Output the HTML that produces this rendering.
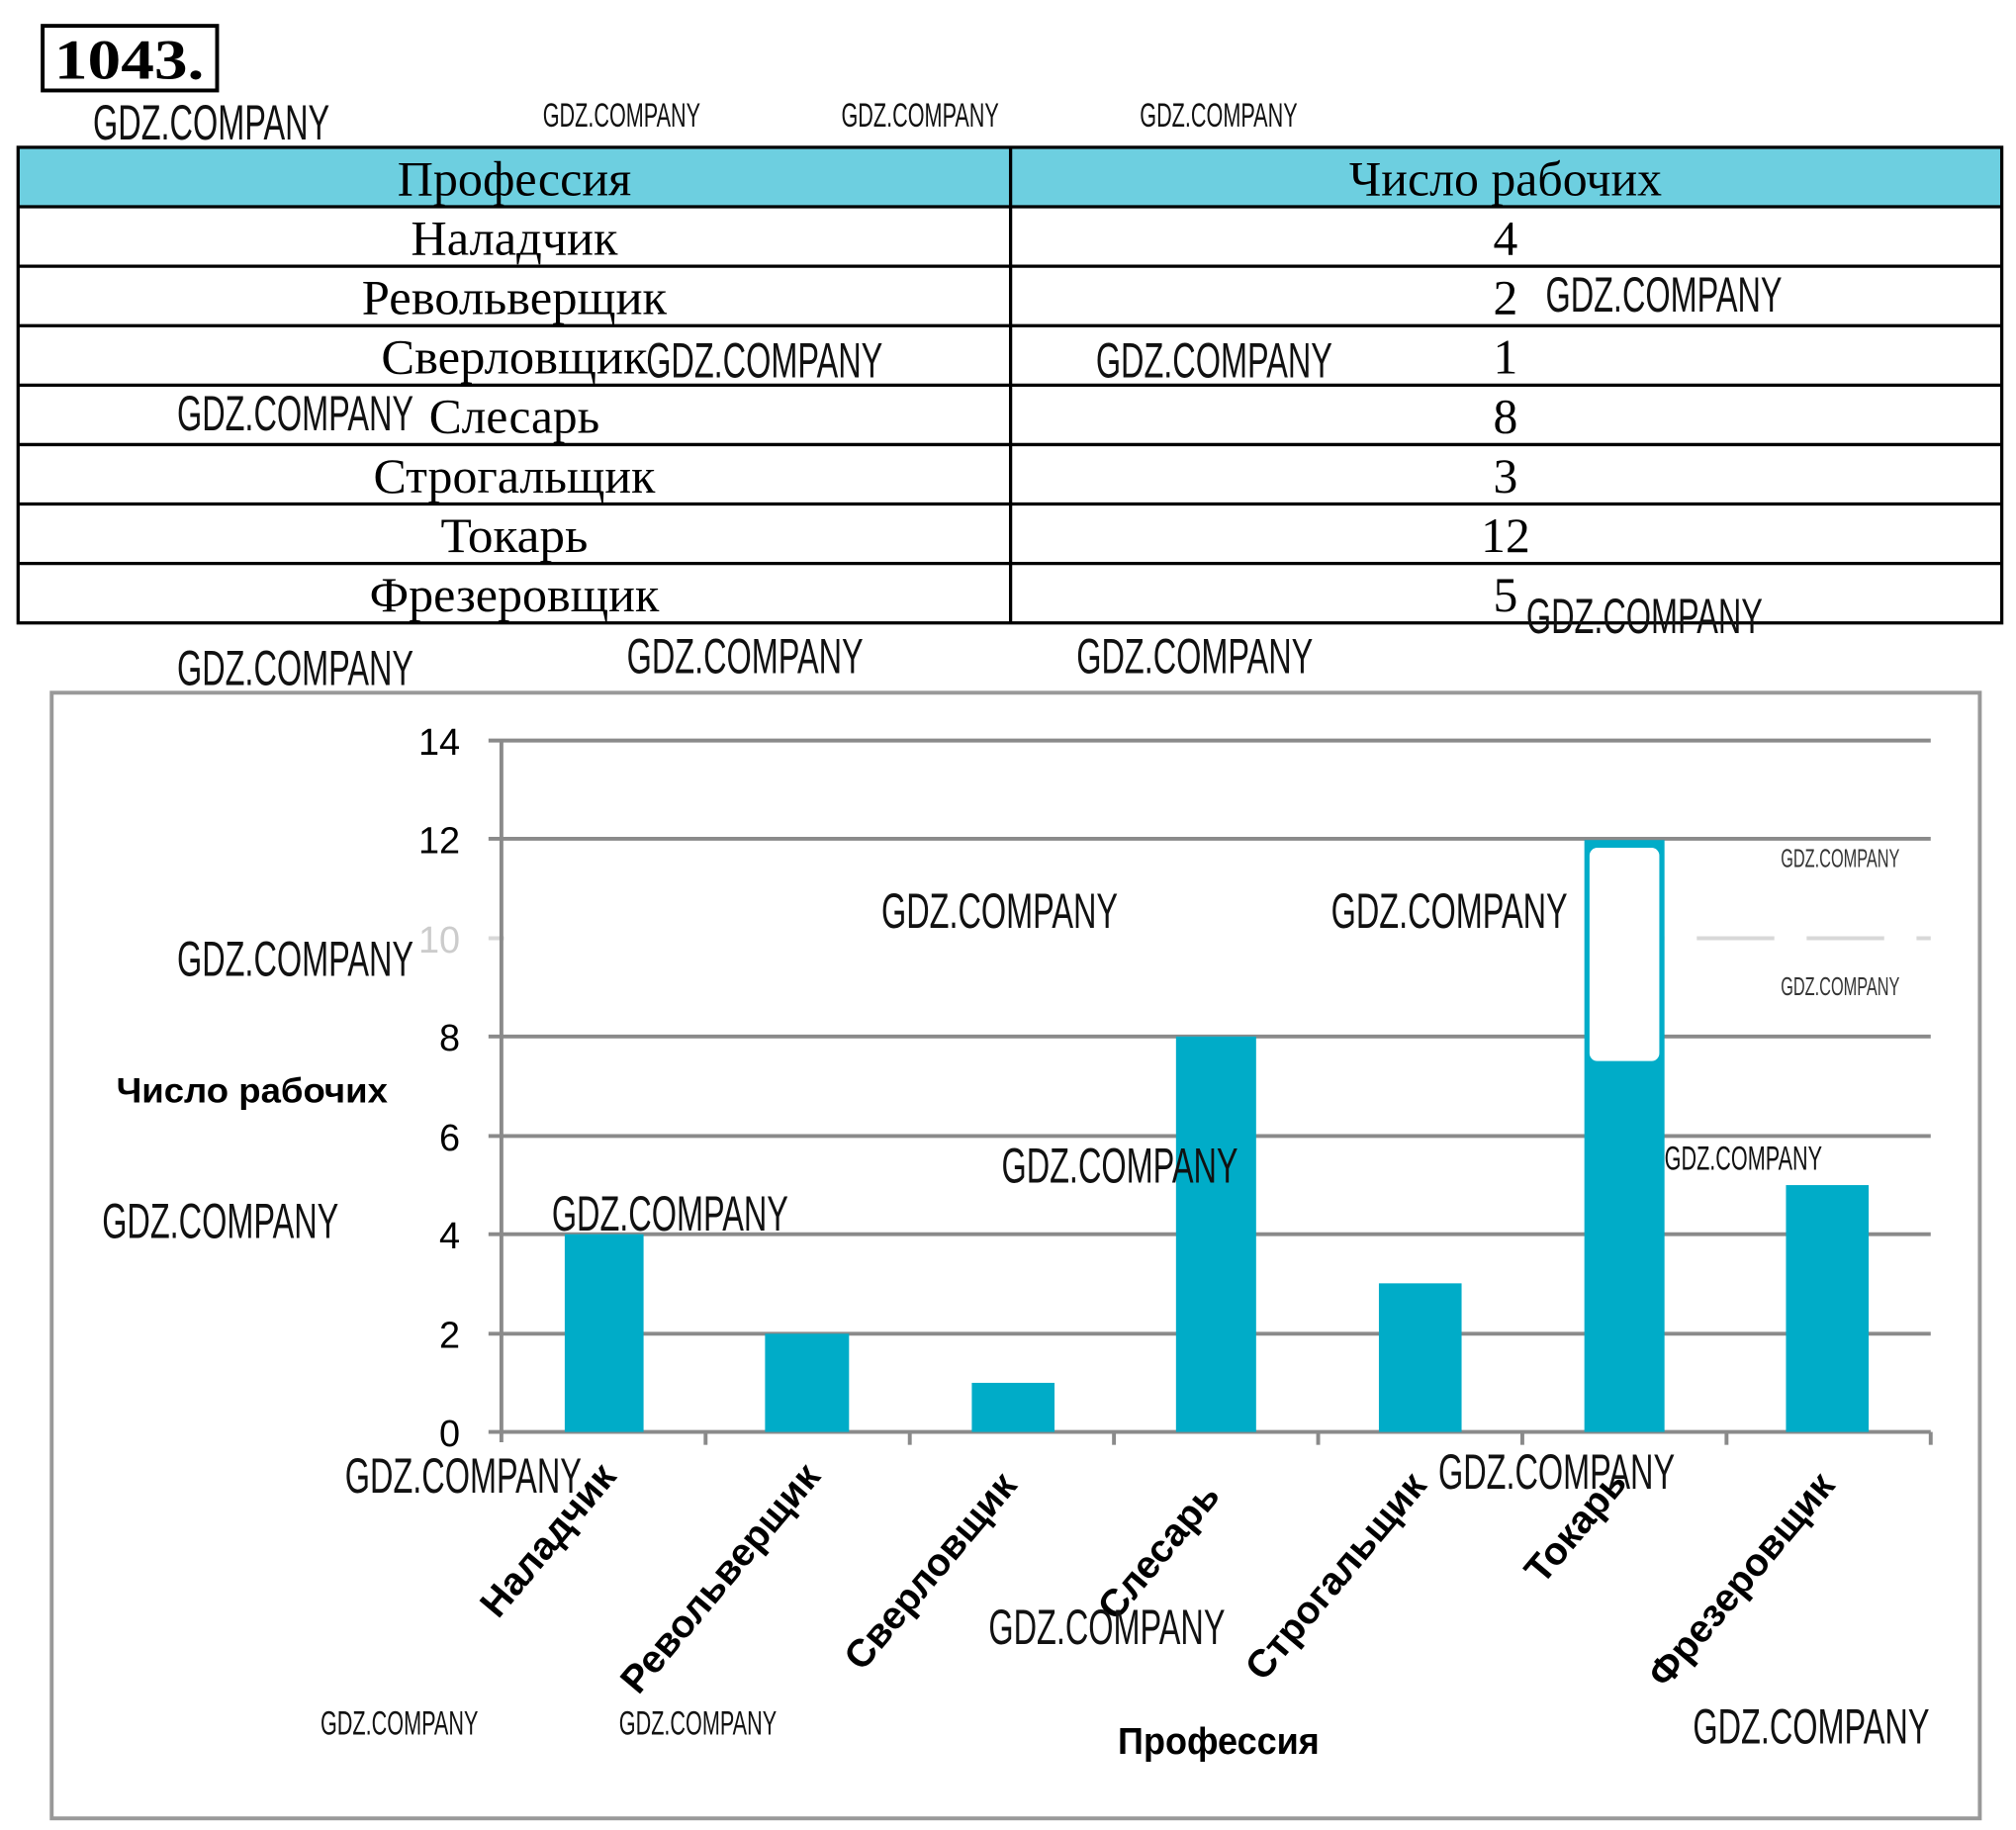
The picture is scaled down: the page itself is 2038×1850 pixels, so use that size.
<!DOCTYPE html>
<html><head><meta charset="utf-8"><style>html,body{margin:0;padding:0;background:#fff;}svg{display:block}</style></head>
<body>
<svg width="2038" height="1850" viewBox="0 0 1560 1416" preserveAspectRatio="none" xmlns="http://www.w3.org/2000/svg">
<rect width="1560" height="1416" fill="#fff"/>
<rect x="33" y="20" width="135" height="50" fill="none" stroke="#000" stroke-width="3"/>
<text x="42" y="61" font-family="Liberation Serif, serif" font-weight="bold" font-size="44" textLength="116" lengthAdjust="spacingAndGlyphs">1043.</text>
<g font-family="Liberation Sans Narrow, Liberation Sans, sans-serif" fill="#111">
<text x="72" y="108" font-size="38" textLength="183" lengthAdjust="spacingAndGlyphs">GDZ.COMPANY</text>
<text x="420" y="98" font-size="26" textLength="122" lengthAdjust="spacingAndGlyphs">GDZ.COMPANY</text>
<text x="651" y="98" font-size="26" textLength="122" lengthAdjust="spacingAndGlyphs">GDZ.COMPANY</text>
<text x="882" y="98" font-size="26" textLength="122" lengthAdjust="spacingAndGlyphs">GDZ.COMPANY</text>
</g>
<rect x="14" y="114" width="1535" height="46" fill="#6dcfe0"/>
<g stroke="#000" stroke-width="2.5" fill="none">
<rect x="14" y="114" width="1535" height="368"/>
<line x1="782" y1="114" x2="782" y2="482"/>
<line x1="14" y1="160" x2="1549" y2="160"/>
<line x1="14" y1="206" x2="1549" y2="206"/>
<line x1="14" y1="252" x2="1549" y2="252"/>
<line x1="14" y1="298" x2="1549" y2="298"/>
<line x1="14" y1="344" x2="1549" y2="344"/>
<line x1="14" y1="390" x2="1549" y2="390"/>
<line x1="14" y1="436" x2="1549" y2="436"/>
</g>
<g font-family="Liberation Serif, serif" font-size="38" text-anchor="middle" fill="#000" lengthAdjust="spacingAndGlyphs">
<text x="398" y="151" textLength="181" lengthAdjust="spacingAndGlyphs">Профессия</text><text x="1165" y="151" textLength="242" lengthAdjust="spacingAndGlyphs">Число рабочих</text>
<text x="398" y="197" textLength="160" lengthAdjust="spacingAndGlyphs">Наладчик</text><text x="1165" y="197">4</text>
<text x="398" y="243" textLength="236" lengthAdjust="spacingAndGlyphs">Револьверщик</text><text x="1165" y="243">2</text>
<text x="398" y="289" textLength="206" lengthAdjust="spacingAndGlyphs">Сверловщик</text><text x="1165" y="289">1</text>
<text x="398" y="335" textLength="132" lengthAdjust="spacingAndGlyphs">Слесарь</text><text x="1165" y="335">8</text>
<text x="398" y="381" textLength="218" lengthAdjust="spacingAndGlyphs">Строгальщик</text><text x="1165" y="381">3</text>
<text x="398" y="427" textLength="114" lengthAdjust="spacingAndGlyphs">Токарь</text><text x="1165" y="427">12</text>
<text x="398" y="473" textLength="224" lengthAdjust="spacingAndGlyphs">Фрезеровщик</text><text x="1165" y="473">5</text>
</g>
<rect x="40" y="536" width="1492" height="871" fill="none" stroke="#999" stroke-width="3"/>
<g stroke="#8a8a8a" stroke-width="3">
<line x1="378" y1="573" x2="1494" y2="573"/>
<line x1="378" y1="649" x2="1494" y2="649"/>
<line x1="378" y1="726" x2="1494" y2="726" stroke="#d8d8d8" stroke-dasharray="60,25"/>
<line x1="378" y1="802" x2="1494" y2="802"/>
<line x1="378" y1="879" x2="1494" y2="879"/>
<line x1="378" y1="955" x2="1494" y2="955"/>
<line x1="378" y1="1032" x2="1494" y2="1032"/>
<line x1="378" y1="1108" x2="1494" y2="1108"/>
<line x1="388" y1="573" x2="388" y2="1116"/>
<line x1="546" y1="1108" x2="546" y2="1118"/><line x1="704" y1="1108" x2="704" y2="1118"/>
<line x1="862" y1="1108" x2="862" y2="1118"/><line x1="1020" y1="1108" x2="1020" y2="1118"/>
<line x1="1178" y1="1108" x2="1178" y2="1118"/><line x1="1336" y1="1108" x2="1336" y2="1118"/>
<line x1="1494" y1="1108" x2="1494" y2="1118"/>
</g>
<rect x="390" y="655" width="835" height="142" fill="#fff"/>
<g fill="#00acc8">
<rect x="437" y="955" width="61" height="153"/>
<rect x="592" y="1032" width="65" height="76"/>
<rect x="752" y="1070" width="64" height="38"/>
<rect x="910" y="802" width="62" height="306"/>
<rect x="1067" y="993" width="64" height="115"/>
<rect x="1226" y="650" width="62" height="458"/>
<rect x="1382" y="917" width="64" height="191"/>
</g>
<rect x="1230" y="656" width="54" height="165" rx="6" fill="#fff"/>
<g font-family="Liberation Sans, sans-serif" font-size="29" text-anchor="end" fill="#000">
<text x="356" y="584">14</text><text x="356" y="660">12</text><text x="356" y="737" fill="#ccc">10</text>
<text x="356" y="813">8</text><text x="356" y="890">6</text><text x="356" y="966">4</text>
<text x="356" y="1043">2</text><text x="356" y="1119">0</text>
</g>
<text x="195" y="853" font-family="Liberation Sans, sans-serif" font-weight="bold" font-size="27" text-anchor="middle" textLength="210" lengthAdjust="spacingAndGlyphs">Число рабочих</text>
<text x="943" y="1357" font-family="Liberation Sans, sans-serif" font-weight="bold" font-size="29" text-anchor="middle" textLength="156" lengthAdjust="spacingAndGlyphs">Профессия</text>
<g font-family="Liberation Sans, sans-serif" font-weight="bold" font-size="30" text-anchor="end">
<text transform="translate(478,1143) rotate(-50)">Наладчик</text>
<text transform="translate(636,1143) rotate(-50)">Револьверщик</text>
<text transform="translate(788,1150) rotate(-50)">Сверловщик</text>
<text transform="translate(945,1158) rotate(-50)">Слесарь</text>
<text transform="translate(1105,1150) rotate(-50)">Строгальщик</text>
<text transform="translate(1260,1148) rotate(-50)">Токарь</text>
<text transform="translate(1421,1150) rotate(-50)">Фрезеровщик</text>
</g>
<g font-family="Liberation Sans Narrow, Liberation Sans, sans-serif" fill="#111" font-size="38">
<text x="1196" y="241" textLength="183" lengthAdjust="spacingAndGlyphs">GDZ.COMPANY</text>
<text x="500" y="292" textLength="183" lengthAdjust="spacingAndGlyphs">GDZ.COMPANY</text>
<text x="848" y="292" textLength="183" lengthAdjust="spacingAndGlyphs">GDZ.COMPANY</text>
<text x="137" y="333" textLength="183" lengthAdjust="spacingAndGlyphs">GDZ.COMPANY</text>
<text x="1181" y="490" textLength="183" lengthAdjust="spacingAndGlyphs">GDZ.COMPANY</text>
<text x="137" y="530" textLength="183" lengthAdjust="spacingAndGlyphs">GDZ.COMPANY</text>
<text x="485" y="521" textLength="183" lengthAdjust="spacingAndGlyphs">GDZ.COMPANY</text>
<text x="833" y="521" textLength="183" lengthAdjust="spacingAndGlyphs">GDZ.COMPANY</text>
<text x="682" y="718" textLength="183" lengthAdjust="spacingAndGlyphs">GDZ.COMPANY</text>
<text x="1030" y="718" textLength="183" lengthAdjust="spacingAndGlyphs">GDZ.COMPANY</text>
<text x="137" y="755" textLength="183" lengthAdjust="spacingAndGlyphs">GDZ.COMPANY</text>
<text x="775" y="915" textLength="183" lengthAdjust="spacingAndGlyphs">GDZ.COMPANY</text>
<text x="79" y="958" textLength="183" lengthAdjust="spacingAndGlyphs">GDZ.COMPANY</text>
<text x="427" y="952" textLength="183" lengthAdjust="spacingAndGlyphs">GDZ.COMPANY</text>
<text x="267" y="1155" textLength="183" lengthAdjust="spacingAndGlyphs">GDZ.COMPANY</text>
<text x="1113" y="1152" textLength="183" lengthAdjust="spacingAndGlyphs">GDZ.COMPANY</text>
<text x="765" y="1272" textLength="183" lengthAdjust="spacingAndGlyphs">GDZ.COMPANY</text>
<text x="1310" y="1349" textLength="183" lengthAdjust="spacingAndGlyphs">GDZ.COMPANY</text>
</g>
<g font-family="Liberation Sans Narrow, Liberation Sans, sans-serif" fill="#111" font-size="26">
<text x="1288" y="905" textLength="122" lengthAdjust="spacingAndGlyphs">GDZ.COMPANY</text>
<text x="248" y="1342" textLength="122" lengthAdjust="spacingAndGlyphs">GDZ.COMPANY</text>
<text x="479" y="1342" textLength="122" lengthAdjust="spacingAndGlyphs">GDZ.COMPANY</text>
</g>
<g font-family="Liberation Sans Narrow, Liberation Sans, sans-serif" fill="#333" font-size="20">
<text x="1378" y="671" textLength="92" lengthAdjust="spacingAndGlyphs">GDZ.COMPANY</text>
<text x="1378" y="770" textLength="92" lengthAdjust="spacingAndGlyphs">GDZ.COMPANY</text>
</g>
</svg>
</body></html>
